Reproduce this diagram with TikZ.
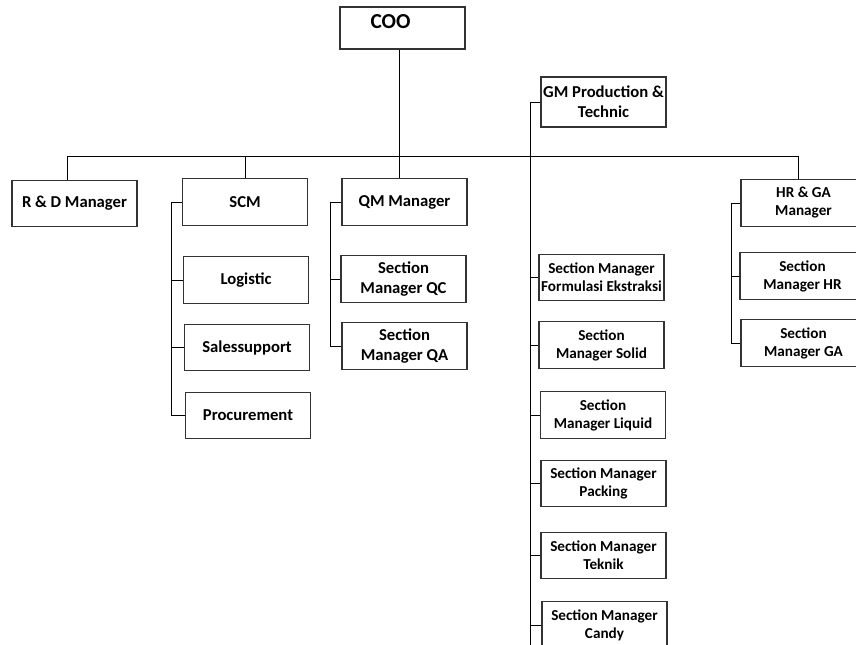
\documentclass[tikz,border=0pt]{standalone}
\usepackage{fontspec}
\setmainfont{Carlito}
\usepackage{tikz}
\usetikzlibrary{positioning}

\tikzset{
    unit/.style = {draw=black!80, line width=0.8pt, align=center, inner sep=1pt,
                   font=\bfseries\fontsize{12.5}{15}\selectfont,
                   minimum width=93.75pt, minimum height=34.8pt},
    sect/.style = {unit, font=\bfseries\fontsize{11.4}{13.5}\selectfont},
    conn/.style = {draw=black, line width=0.6pt}
}

\begin{document}
\begin{tikzpicture}[x=0.75pt, y=-0.75pt]
    \useasboundingbox (0,0) rectangle (856,645);
    \clip (0,0) rectangle (856,645);

    % top
    \node (coo) [unit, minimum height=31.5pt, text depth=9pt,
                 font=\bfseries\fontsize{16}{18}\selectfont] at (402.5,28) {COO\hspace*{18pt}};
    \node (gm) [unit, minimum height=37.5pt] at (603.5,102) {GM Production \&\\Technic};

    % first row
    \node (rd)  [unit] at (74.5,203.5) {R \& D Manager};
    \node (scm) [unit] at (245,202)    {SCM};
    \node (qm)  [unit] at (404.5,202)  {QM Manager};
    \node (hr)  [sect] at (803.5,203)  {HR \& GA\\Manager};

    % SCM
    \node (logi)  [unit] at (246,280)   {Logistic};
    \node (sales) [unit] at (247,347.5) {Salessupport};
    \node (proc)  [unit] at (248,415.5) {Procurement};

    % QM
    \node (qc) [unit] at (403.5,279) {Section\\Manager QC};
    \node (qa) [unit] at (404.5,346) {Section\\Manager QA};

    % production
    \node (formu)  [sect] at (601.5,277.5) {Section Manager\\Formulasi Ekstraksi};
    \node (solid)  [sect] at (601.5,345)   {Section\\Manager Solid};
    \node (liquid) [sect] at (603,415)     {Section\\Manager Liquid};
    \node (pack)   [sect] at (603.5,483.5) {Section Manager\\Packing};
    \node (teknik) [sect] at (603.5,555.5) {Section Manager\\Teknik};
    \node (candy)  [sect] at (604.5,625)   {Section Manager\\Candy};

    % HR & GA
    \node (hrs) [sect] at (802.5,276) {Section\\Manager HR};
    \node (gas) [sect] at (803.5,343) {Section\\Manager GA};

    % lines
    \coordinate (bus) at (399,156.5);
    \draw [conn] ([xshift=-5.6pt]rd.north) |- (bus) -| ([xshift=-4pt]hr.north);
    \draw [conn] (coo.south -| bus) -- (qm.north -| bus);
    \draw [conn] (scm.north) -- (scm.north |- bus);

    \draw [conn] (scm.west) -- (scm.west -| 171,0) |- (proc.west);
    \foreach \n in {logi, sales}
        \draw [conn] (\n.west) -- (\n.west -| 171,0);

    \draw [conn] (qm.west) -- (qm.west -| 330,0) |- (qa.west);
    \draw [conn] (qc.west) -- (qc.west -| 330,0);

    \draw [conn] (gm.west) -| (530,645);
    \foreach \n in {formu, solid, liquid, pack, teknik, candy}
        \draw [conn] (\n.west) -- (\n.west -| 530,0);

    \draw [conn] (hr.west) -- (hr.west -| 731,0) |- (gas.west);
    \draw [conn] (hrs.west) -- (hrs.west -| 731,0);

\end{tikzpicture}
\end{document}
